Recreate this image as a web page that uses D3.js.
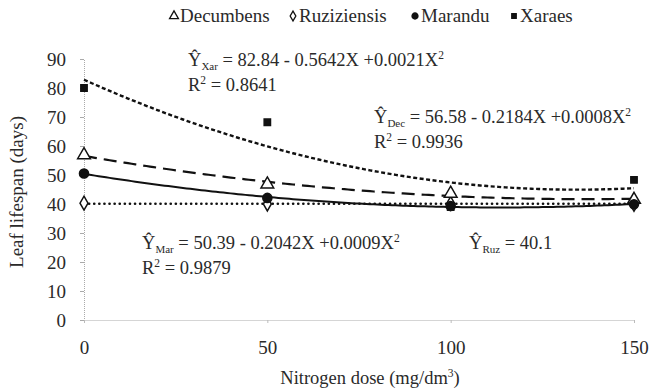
<!DOCTYPE html>
<html><head><meta charset="utf-8">
<script src="https://cdn.jsdelivr.net/npm/d3@7"></script>
<style>
html,body{margin:0;padding:0;background:#fff;}
</style></head>
<body><svg id="c" width="663" height="389"></svg>
<script>
const doses = [0, 50, 100, 150];
const seriesNames = ["Decumbens", "Ruziziensis", "Marandu", "Xaraes"];
const decumbens = [56.9, 46.8, 43.6, 41.5];
const ruziziensis = [40.3, 40.0, 40.2, 39.9];
const marandu = [50.5, 42.1, 39.3, 39.9];
const xaraes = [80.0, 68.2, 38.9, 48.3];
// regression coefficients [a, b, c] printed on chart: a + bX + cX^2
const coefDec = [56.58, -0.2184, 0.0008];
const coefRuz = [40.1, 0, 0];
const coefMar = [50.39, -0.2042, 0.0009];
const coefXar = [82.84, -0.5642, 0.0021];
const yTicks = [0, 10, 20, 30, 40, 50, 60, 70, 80, 90];
const xTicks = [0, 50, 100, 150];

const FONT = "'Liberation Serif', 'Tinos', 'Times New Roman', serif";
const INK = "#2a2a2a";
const svg = d3.select("#c");
const x = d3.scaleLinear().domain([0, 150]).range([84, 634]);
const y = d3.scaleLinear().domain([0, 90]).range([320, 59]);

// axes
const yAxis = d3.axisLeft(y).tickValues(yTicks).tickSize(4).tickPadding(14);
const gy = svg.append("g").attr("transform", "translate(" + x(0) + ",0)").call(yAxis);
gy.select(".domain").attr("stroke", "#aaa").attr("stroke-dasharray", "1,1");
gy.selectAll(".tick line").attr("stroke", "#aaa");
gy.selectAll(".tick text").style("font-family", FONT).style("font-size", "19px").attr("fill", INK);

const xAxis = d3.axisBottom(x).tickValues(xTicks).tickSize(3).tickPadding(18).tickSizeOuter(0);
const gx = svg.append("g").attr("transform", "translate(0," + y(0) + ")").call(xAxis);
gx.select(".domain").attr("stroke", "#aaa").attr("stroke-dasharray", "1,1");
gx.selectAll(".tick line").attr("stroke", "#bbb");
gx.selectAll(".tick text").style("font-family", FONT).style("font-size", "19px").attr("fill", INK);

// axis titles
const xt = svg.append("text").attr("x", 370).attr("y", 384).attr("text-anchor", "middle")
  .style("font-family", FONT).style("font-size", "18.5px").attr("fill", INK);
xt.append("tspan").text("Nitrogen dose (mg/dm");
xt.append("tspan").style("font-size", "11.5px").attr("dy", -7).text("3");
xt.append("tspan").attr("dy", 7).text(")");
svg.append("text").attr("transform", "translate(23,192) rotate(-90)").attr("text-anchor", "middle")
  .style("font-family", FONT).style("font-size", "19px").attr("fill", INK).text("Leaf lifespan (days)");

// trend curves
const xs = d3.range(0, 150.5, 1);
const quad = (c) => xs.map(v => [v, c[0] + c[1] * v + c[2] * v * v]);
const line = d3.line().x(d => x(d[0])).y(d => y(d[1]));
const curves = [
  {c: coefXar, dash: "4,2.5", w: 2.4},
  {c: coefDec, dash: "13,7", w: 2.2},
  {c: coefMar, dash: null, w: 2},
  {c: coefRuz, dash: "0.1,5", w: 2.6, cap: "round"}
];
curves.forEach(k => {
  svg.append("path").attr("d", line(quad(k.c))).attr("fill", "none").attr("stroke", "#111")
    .attr("stroke-width", k.w).attr("stroke-dasharray", k.dash).attr("stroke-linecap", k.cap || "butt");
});

// markers
const tri = d3.symbol().type(d3.symbolTriangle).size(70);
const dia = d3.symbol().type(d3.symbolDiamond).size(55);
const cir = d3.symbol().type(d3.symbolCircle).size(65);
const sq = d3.symbol().type(d3.symbolSquare).size(40);
function pts(vals, sym, filled) {
  svg.append("g").selectAll("path").data(vals).join("path")
    .attr("d", sym).attr("transform", (d, i) => "translate(" + x(doses[i]) + "," + y(d) + ")")
    .attr("fill", filled ? "#111" : "#fff").attr("stroke", "#111").attr("stroke-width", 1.5);
}
pts(ruziziensis, dia, false);
pts(decumbens, tri, false);
pts(xaraes, sq, true);
pts(marandu, cir, true);

// legend
const legX = [169, 288, 410, 509];
const legSyms = [
  d3.symbol().type(d3.symbolTriangle).size(34),
  d3.symbol().type(d3.symbolDiamond).size(28),
  d3.symbol().type(d3.symbolCircle).size(28),
  d3.symbol().type(d3.symbolSquare).size(20)
];
const legFill = [false, false, true, true];
seriesNames.forEach((n, i) => {
  svg.append("path").attr("d", legSyms[i]).attr("transform", "translate(" + (legX[i] + 5) + ",16)")
    .attr("fill", legFill[i] ? "#111" : "#fff").attr("stroke", "#111").attr("stroke-width", 1.3);
  svg.append("text").attr("x", legX[i] + 11).attr("y", 22).style("font-size", "19px")
    .attr("fill", INK).style("font-family", FONT).text(n);
});

// equations
function eq(xp, yp, sub, rest) {
  const t = svg.append("text").attr("x", xp).attr("y", yp).style("font-size", "18.5px")
    .attr("fill", INK).style("font-family", FONT);
  t.append("tspan").text("\u0176");
  t.append("tspan").style("font-size", "11px").attr("dy", 4).text(sub);
  t.append("tspan").attr("dy", -4).text(" " + rest.replace(/\^2$/, ""));
  if (/\^2$/.test(rest)) t.append("tspan").style("font-size", "11.5px").attr("dy", -7).text("2");
}
function r2(xp, yp, v) {
  const t = svg.append("text").attr("x", xp).attr("y", yp).style("font-size", "18.5px")
    .attr("fill", INK).style("font-family", FONT);
  t.append("tspan").text("R");
  t.append("tspan").style("font-size", "11.5px").attr("dy", -7).text("2");
  t.append("tspan").attr("dy", 7).text(" = " + v);
}
eq(188, 66, "Xar", "= 82.84 - 0.5642X +0.0021X^2");
r2(188, 91, "0.8641");
eq(374, 123, "Dec", "= 56.58 - 0.2184X +0.0008X^2");
r2(374, 148, "0.9936");
eq(142, 249, "Mar", "= 50.39 - 0.2042X +0.0009X^2");
r2(142, 274, "0.9879");
eq(469, 249, "Ruz", "= 40.1");
</script></body></html>
